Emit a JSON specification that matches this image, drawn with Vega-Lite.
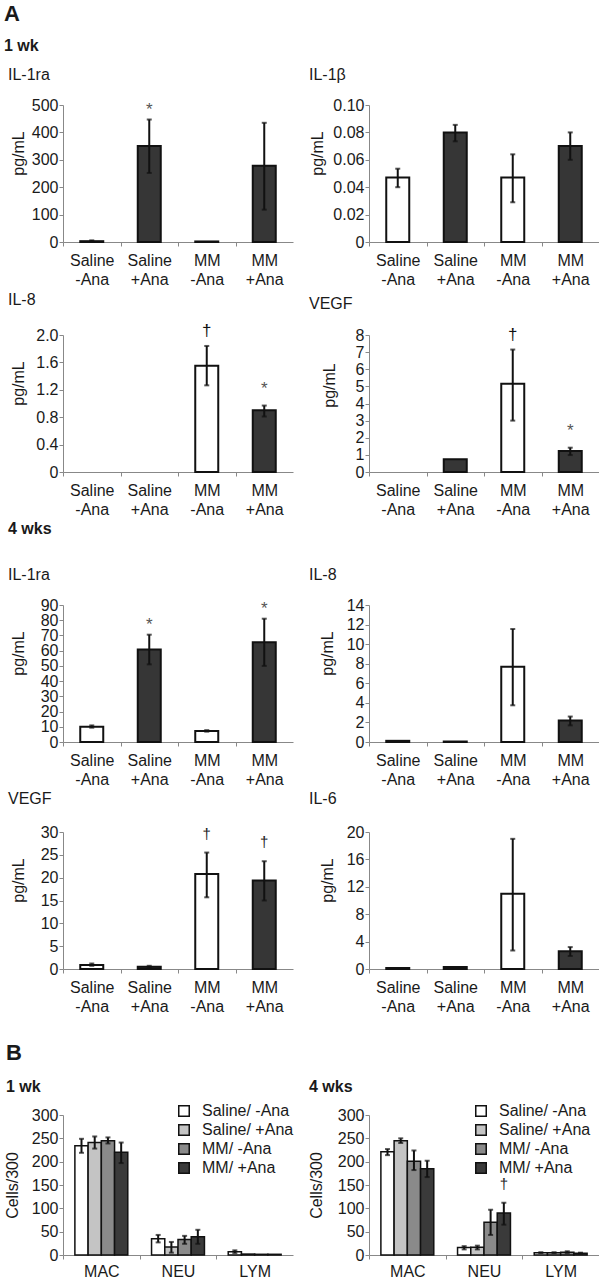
{
  "$schema": "https://vega.github.io/schema/vega-lite/v6.json",
  "padding": {"left": 3, "top": 3, "right": 0, "bottom": 0},
  "background": "white",
  "config": {
    "font": "Liberation Sans",
    "view": {"stroke": null},
    "axis": {"labelFont": "Liberation Sans", "labelFontSize": 16, "labelColor": "#1a1a1a", "titleFont": "Liberation Sans", "titleFontSize": 16, "titleFontWeight": "normal", "titleColor": "#1a1a1a", "domainColor": "#888", "tickColor": "#888", "tickSize": 4, "grid": false, "labelPadding": 1, "labelOverlap": false},
    "title": {"font": "Liberation Sans", "fontSize": 16, "fontWeight": "normal", "anchor": "start", "frame": "group", "color": "#1a1a1a", "offset": 14, "subtitleFont": "Liberation Sans", "subtitleFontSize": 16, "subtitleColor": "#1a1a1a"},
    "legend": {"labelFont": "Liberation Sans"}
  },
  "title": {"text": "A", "subtitle": "1 wk", "fontSize": 22, "fontWeight": "bold", "subtitleFontWeight": "bold", "subtitlePadding": 12, "offset": 12, "anchor": "start", "frame": "bounds"},
  "resolve": {"scale": {"fill": "independent"}, "legend": {"fill": "independent"}},
  "datasets": {
    "w1_il1ra": [
      {"c": "Saline -Ana", "ana": "-Ana", "v": 3, "lo": 1.5, "hi": 6, "sig": ""},
      {"c": "Saline +Ana", "ana": "+Ana", "v": 350, "lo": 252, "hi": 447, "sig": "*"},
      {"c": "MM -Ana", "ana": "-Ana", "v": 2, "lo": null, "hi": null, "sig": ""},
      {"c": "MM +Ana", "ana": "+Ana", "v": 278, "lo": 118, "hi": 435, "sig": ""}
    ],
    "w1_il1b": [
      {"c": "Saline -Ana", "ana": "-Ana", "v": 0.047, "lo": 0.040, "hi": 0.0535, "sig": ""},
      {"c": "Saline +Ana", "ana": "+Ana", "v": 0.080, "lo": 0.0735, "hi": 0.0855, "sig": ""},
      {"c": "MM -Ana", "ana": "-Ana", "v": 0.047, "lo": 0.029, "hi": 0.064, "sig": ""},
      {"c": "MM +Ana", "ana": "+Ana", "v": 0.070, "lo": 0.060, "hi": 0.080, "sig": ""}
    ],
    "w1_il8": [
      {"c": "Saline -Ana", "ana": "-Ana", "v": null, "lo": null, "hi": null, "sig": ""},
      {"c": "Saline +Ana", "ana": "+Ana", "v": null, "lo": null, "hi": null, "sig": ""},
      {"c": "MM -Ana", "ana": "-Ana", "v": 1.55, "lo": 1.265, "hi": 1.84, "sig": "†"},
      {"c": "MM +Ana", "ana": "+Ana", "v": 0.9, "lo": 0.81, "hi": 0.97, "sig": "*"}
    ],
    "w1_vegf": [
      {"c": "Saline -Ana", "ana": "-Ana", "v": null, "lo": null, "hi": null, "sig": ""},
      {"c": "Saline +Ana", "ana": "+Ana", "v": 0.75, "lo": null, "hi": null, "sig": ""},
      {"c": "MM -Ana", "ana": "-Ana", "v": 5.15, "lo": 3.0, "hi": 7.15, "sig": "†"},
      {"c": "MM +Ana", "ana": "+Ana", "v": 1.22, "lo": 0.99, "hi": 1.42, "sig": "*"}
    ],
    "w4_il1ra": [
      {"c": "Saline -Ana", "ana": "-Ana", "v": 10.0, "lo": 9.4, "hi": 10.9, "sig": ""},
      {"c": "Saline +Ana", "ana": "+Ana", "v": 60.8, "lo": 51, "hi": 70.5, "sig": "*"},
      {"c": "MM -Ana", "ana": "-Ana", "v": 7.2, "lo": 6.8, "hi": 7.8, "sig": ""},
      {"c": "MM +Ana", "ana": "+Ana", "v": 65.5, "lo": 50, "hi": 81, "sig": "*"}
    ],
    "w4_il8": [
      {"c": "Saline -Ana", "ana": "-Ana", "v": 0.12, "lo": null, "hi": null, "sig": ""},
      {"c": "Saline +Ana", "ana": "+Ana", "v": 0.05, "lo": null, "hi": null, "sig": ""},
      {"c": "MM -Ana", "ana": "-Ana", "v": 7.7, "lo": 3.75, "hi": 11.55, "sig": ""},
      {"c": "MM +Ana", "ana": "+Ana", "v": 2.2, "lo": 1.7, "hi": 2.6, "sig": ""}
    ],
    "w4_vegf": [
      {"c": "Saline -Ana", "ana": "-Ana", "v": 0.9, "lo": 0.7, "hi": 1.2, "sig": ""},
      {"c": "Saline +Ana", "ana": "+Ana", "v": 0.5, "lo": 0.4, "hi": 0.7, "sig": ""},
      {"c": "MM -Ana", "ana": "-Ana", "v": 20.8, "lo": 15.7, "hi": 25.5, "sig": "†"},
      {"c": "MM +Ana", "ana": "+Ana", "v": 19.4, "lo": 15.0, "hi": 23.6, "sig": "†"}
    ],
    "w4_il6": [
      {"c": "Saline -Ana", "ana": "-Ana", "v": 0.15, "lo": null, "hi": null, "sig": ""},
      {"c": "Saline +Ana", "ana": "+Ana", "v": 0.3, "lo": null, "hi": null, "sig": ""},
      {"c": "MM -Ana", "ana": "-Ana", "v": 11.0, "lo": 2.7, "hi": 19.0, "sig": ""},
      {"c": "MM +Ana", "ana": "+Ana", "v": 2.6, "lo": 1.9, "hi": 3.2, "sig": ""}
    ],
    "b1": [
      {"cell": "MAC", "grp": "Saline/ -Ana", "v": 234, "lo": 219, "hi": 249, "sig": ""},
      {"cell": "MAC", "grp": "Saline/ +Ana", "v": 241, "lo": 228, "hi": 254, "sig": ""},
      {"cell": "MAC", "grp": "MM/ -Ana", "v": 245, "lo": 239, "hi": 252, "sig": ""},
      {"cell": "MAC", "grp": "MM/ +Ana", "v": 220, "lo": 197, "hi": 241, "sig": ""},
      {"cell": "NEU", "grp": "Saline/ -Ana", "v": 35, "lo": 27, "hi": 43, "sig": ""},
      {"cell": "NEU", "grp": "Saline/ +Ana", "v": 17, "lo": 5, "hi": 28, "sig": ""},
      {"cell": "NEU", "grp": "MM/ -Ana", "v": 33, "lo": 24, "hi": 41, "sig": ""},
      {"cell": "NEU", "grp": "MM/ +Ana", "v": 39, "lo": 24, "hi": 54, "sig": ""},
      {"cell": "LYM", "grp": "Saline/ -Ana", "v": 7, "lo": 4, "hi": 10, "sig": ""},
      {"cell": "LYM", "grp": "Saline/ +Ana", "v": 2, "lo": null, "hi": null, "sig": ""},
      {"cell": "LYM", "grp": "MM/ -Ana", "v": 1.5, "lo": null, "hi": null, "sig": ""},
      {"cell": "LYM", "grp": "MM/ +Ana", "v": 1.5, "lo": null, "hi": null, "sig": ""}
    ],
    "b4": [
      {"cell": "MAC", "grp": "Saline/ -Ana", "v": 221, "lo": 214, "hi": 227, "sig": ""},
      {"cell": "MAC", "grp": "Saline/ +Ana", "v": 245, "lo": 240, "hi": 250, "sig": ""},
      {"cell": "MAC", "grp": "MM/ -Ana", "v": 201, "lo": 182, "hi": 224, "sig": ""},
      {"cell": "MAC", "grp": "MM/ +Ana", "v": 185, "lo": 167, "hi": 202, "sig": ""},
      {"cell": "NEU", "grp": "Saline/ -Ana", "v": 16, "lo": 12, "hi": 19, "sig": ""},
      {"cell": "NEU", "grp": "Saline/ +Ana", "v": 16.5, "lo": 12, "hi": 20, "sig": ""},
      {"cell": "NEU", "grp": "MM/ -Ana", "v": 70, "lo": 43, "hi": 97, "sig": ""},
      {"cell": "NEU", "grp": "MM/ +Ana", "v": 90, "lo": 65, "hi": 112, "sig": "†"},
      {"cell": "LYM", "grp": "Saline/ -Ana", "v": 5, "lo": 4, "hi": 6, "sig": ""},
      {"cell": "LYM", "grp": "Saline/ +Ana", "v": 5, "lo": 4, "hi": 6, "sig": ""},
      {"cell": "LYM", "grp": "MM/ -Ana", "v": 6, "lo": 4, "hi": 8, "sig": ""},
      {"cell": "LYM", "grp": "MM/ +Ana", "v": 4, "lo": 3, "hi": 5, "sig": ""}
    ]
  },
  "columns": 2,
  "align": "each",
  "bounds": "full",
  "spacing": {"row": 4, "column": 13},
  "concat": [
    {
      "title": {"text": "IL-1ra", "dx": -55},
      "width": 230, "height": 137,
      "data": {"name": "w1_il1ra"},
      "encoding": {"x": {"field": "c", "type": "nominal", "sort": ["Saline -Ana", "Saline +Ana", "MM -Ana", "MM +Ana"], "scale": {"paddingInner": 0.6, "paddingOuter": 0.3}, "axis": {"title": null, "labelAngle": 0, "labelExpr": "split(datum.label, ' ')", "labelLineHeight": 19, "labelPadding": 6, "tickOffset": -28.75, "labelOffset": 28.75}}},
      "layer": [
        {"mark": {"type": "bar", "stroke": "#111", "strokeWidth": 2},
         "encoding": {"y": {"field": "v", "type": "quantitative", "title": "pg/mL", "scale": {"domain": [0, 500]}, "axis": {"values": [0, 100, 200, 300, 400, 500], "labelOverlap": false, "titleX": -37, "titleY": 48}},
                      "fill": {"field": "ana", "type": "nominal", "scale": {"domain": ["-Ana", "+Ana"], "range": ["white", "#363636"]}, "legend": null}}},
        {"transform": [{"filter": "isValid(datum.hi)"}], "mark": {"type": "errorbar", "color": "#111", "ticks": {"size": 5, "thickness": 2}, "rule": {"strokeWidth": 2}},
         "encoding": {"y": {"field": "lo", "type": "quantitative", "title": "pg/mL", "axis": {"values": [0, 100, 200, 300, 400, 500], "labelOverlap": false, "titleX": -37, "titleY": 48}}, "y2": {"field": "hi"}}},
        {"transform": [{"filter": "datum.sig == '*'"}], "mark": {"type": "text", "baseline": "alphabetic", "dy": -5, "fontSize": 17, "color": "#555"},
         "encoding": {"y": {"field": "hi", "type": "quantitative", "title": "pg/mL", "axis": {"values": [0, 100, 200, 300, 400, 500], "labelOverlap": false, "titleX": -37, "titleY": 48}}, "text": {"field": "sig"}}}
      ]
    },
    {
      "title": {"text": "IL-1β", "dx": -60},
      "width": 230, "height": 137,
      "data": {"name": "w1_il1b"},
      "encoding": {"x": {"field": "c", "type": "nominal", "sort": ["Saline -Ana", "Saline +Ana", "MM -Ana", "MM +Ana"], "scale": {"paddingInner": 0.6, "paddingOuter": 0.3}, "axis": {"title": null, "labelAngle": 0, "labelExpr": "split(datum.label, ' ')", "labelLineHeight": 19, "labelPadding": 6, "tickOffset": -28.75, "labelOffset": 28.75}}},
      "layer": [
        {"mark": {"type": "bar", "stroke": "#111", "strokeWidth": 2},
         "encoding": {"y": {"field": "v", "type": "quantitative", "title": "pg/mL", "scale": {"domain": [0, 0.1]}, "axis": {"values": [0, 0.02, 0.04, 0.06, 0.08, 0.1], "labelOverlap": false, "labelExpr": "datum.value == 0 ? '0' : format(datum.value, '.2f')", "titleX": -44, "titleY": 48}},
                      "fill": {"field": "ana", "type": "nominal", "scale": {"domain": ["-Ana", "+Ana"], "range": ["white", "#363636"]}, "legend": null}}},
        {"transform": [{"filter": "isValid(datum.hi)"}], "mark": {"type": "errorbar", "color": "#111", "ticks": {"size": 5, "thickness": 2}, "rule": {"strokeWidth": 2}},
         "encoding": {"y": {"field": "lo", "type": "quantitative", "title": "pg/mL", "axis": {"values": [0, 0.02, 0.04, 0.06, 0.08, 0.1], "labelOverlap": false, "labelExpr": "datum.value == 0 ? '0' : format(datum.value, '.2f')", "titleX": -44, "titleY": 48}}, "y2": {"field": "hi"}}}
      ]
    },
    {
      "title": {"text": "IL-8", "dx": -55},
      "width": 230, "height": 137,
      "data": {"name": "w1_il8"},
      "encoding": {"x": {"field": "c", "type": "nominal", "sort": ["Saline -Ana", "Saline +Ana", "MM -Ana", "MM +Ana"], "scale": {"paddingInner": 0.6, "paddingOuter": 0.3}, "axis": {"title": null, "labelAngle": 0, "labelExpr": "split(datum.label, ' ')", "labelLineHeight": 19, "labelPadding": 6, "tickOffset": -28.75, "labelOffset": 28.75}}},
      "layer": [
        {"mark": {"type": "bar", "stroke": "#111", "strokeWidth": 2},
         "encoding": {"y": {"field": "v", "type": "quantitative", "title": "pg/mL", "scale": {"domain": [0, 2]}, "axis": {"values": [0, 0.4, 0.8, 1.2, 1.6, 2.0], "labelOverlap": false, "labelExpr": "datum.value == 0 ? '0' : format(datum.value, '.1f')", "titleX": -37, "titleY": 48}},
                      "fill": {"field": "ana", "type": "nominal", "scale": {"domain": ["-Ana", "+Ana"], "range": ["white", "#363636"]}, "legend": null}}},
        {"transform": [{"filter": "isValid(datum.hi)"}], "mark": {"type": "errorbar", "color": "#111", "ticks": {"size": 5, "thickness": 2}, "rule": {"strokeWidth": 2}},
         "encoding": {"y": {"field": "lo", "type": "quantitative", "title": "pg/mL", "axis": {"values": [0, 0.4, 0.8, 1.2, 1.6, 2.0], "labelOverlap": false, "labelExpr": "datum.value == 0 ? '0' : format(datum.value, '.1f')", "titleX": -37, "titleY": 48}}, "y2": {"field": "hi"}}},
        {"transform": [{"filter": "datum.sig == '*'"}], "mark": {"type": "text", "baseline": "alphabetic", "dy": -12, "fontSize": 17, "color": "#555"},
         "encoding": {"y": {"field": "hi", "type": "quantitative", "title": "pg/mL", "axis": {"values": [0, 0.4, 0.8, 1.2, 1.6, 2.0], "labelOverlap": false, "labelExpr": "datum.value == 0 ? '0' : format(datum.value, '.1f')", "titleX": -37, "titleY": 48}}, "text": {"field": "sig"}}},
        {"transform": [{"filter": "datum.sig == '†'"}], "mark": {"type": "text", "baseline": "alphabetic", "dy": -10, "fontSize": 17, "color": "#111"},
         "encoding": {"y": {"field": "hi", "type": "quantitative", "title": "pg/mL", "axis": {"values": [0, 0.4, 0.8, 1.2, 1.6, 2.0], "labelOverlap": false, "labelExpr": "datum.value == 0 ? '0' : format(datum.value, '.1f')", "titleX": -37, "titleY": 48}}, "text": {"field": "sig"}}}
      ]
    },
    {
      "title": {"text": "VEGF", "dx": -60},
      "width": 230, "height": 137,
      "data": {"name": "w1_vegf"},
      "encoding": {"x": {"field": "c", "type": "nominal", "sort": ["Saline -Ana", "Saline +Ana", "MM -Ana", "MM +Ana"], "scale": {"paddingInner": 0.6, "paddingOuter": 0.3}, "axis": {"title": null, "labelAngle": 0, "labelExpr": "split(datum.label, ' ')", "labelLineHeight": 19, "labelPadding": 6, "tickOffset": -28.75, "labelOffset": 28.75}}},
      "layer": [
        {"mark": {"type": "bar", "stroke": "#111", "strokeWidth": 2},
         "encoding": {"y": {"field": "v", "type": "quantitative", "title": "pg/mL", "scale": {"domain": [0, 8]}, "axis": {"values": [0, 1, 2, 3, 4, 5, 6, 7, 8], "labelOverlap": false, "titleX": -32, "titleY": 50}},
                      "fill": {"field": "ana", "type": "nominal", "scale": {"domain": ["-Ana", "+Ana"], "range": ["white", "#363636"]}, "legend": null}}},
        {"transform": [{"filter": "isValid(datum.hi)"}], "mark": {"type": "errorbar", "color": "#111", "ticks": {"size": 5, "thickness": 2}, "rule": {"strokeWidth": 2}},
         "encoding": {"y": {"field": "lo", "type": "quantitative", "title": "pg/mL", "axis": {"values": [0, 1, 2, 3, 4, 5, 6, 7, 8], "labelOverlap": false, "titleX": -32, "titleY": 50}}, "y2": {"field": "hi"}}},
        {"transform": [{"filter": "datum.sig == '*'"}], "mark": {"type": "text", "baseline": "alphabetic", "dy": -12, "fontSize": 17, "color": "#555"},
         "encoding": {"y": {"field": "hi", "type": "quantitative", "title": "pg/mL", "axis": {"values": [0, 1, 2, 3, 4, 5, 6, 7, 8], "labelOverlap": false, "titleX": -32, "titleY": 50}}, "text": {"field": "sig"}}},
        {"transform": [{"filter": "datum.sig == '†'"}], "mark": {"type": "text", "baseline": "alphabetic", "dy": -10, "fontSize": 17, "color": "#111"},
         "encoding": {"y": {"field": "hi", "type": "quantitative", "title": "pg/mL", "axis": {"values": [0, 1, 2, 3, 4, 5, 6, 7, 8], "labelOverlap": false, "titleX": -32, "titleY": 50}}, "text": {"field": "sig"}}}
      ]
    },
    {
      "title": {"text": "4 wks", "fontWeight": "bold", "subtitle": "IL-1ra", "subtitleFontWeight": "normal", "subtitlePadding": 30, "dx": -55},
      "width": 230, "height": 137,
      "data": {"name": "w4_il1ra"},
      "encoding": {"x": {"field": "c", "type": "nominal", "sort": ["Saline -Ana", "Saline +Ana", "MM -Ana", "MM +Ana"], "scale": {"paddingInner": 0.6, "paddingOuter": 0.3}, "axis": {"title": null, "labelAngle": 0, "labelExpr": "split(datum.label, ' ')", "labelLineHeight": 19, "labelPadding": 6, "tickOffset": -28.75, "labelOffset": 28.75}}},
      "layer": [
        {"mark": {"type": "bar", "stroke": "#111", "strokeWidth": 2},
         "encoding": {"y": {"field": "v", "type": "quantitative", "title": "pg/mL", "scale": {"domain": [0, 90]}, "axis": {"values": [0, 10, 20, 30, 40, 50, 60, 70, 80, 90], "labelOverlap": false, "titleX": -37, "titleY": 48}},
                      "fill": {"field": "ana", "type": "nominal", "scale": {"domain": ["-Ana", "+Ana"], "range": ["white", "#363636"]}, "legend": null}}},
        {"transform": [{"filter": "isValid(datum.hi)"}], "mark": {"type": "errorbar", "color": "#111", "ticks": {"size": 5, "thickness": 2}, "rule": {"strokeWidth": 2}},
         "encoding": {"y": {"field": "lo", "type": "quantitative", "title": "pg/mL", "axis": {"values": [0, 10, 20, 30, 40, 50, 60, 70, 80, 90], "labelOverlap": false, "titleX": -37, "titleY": 48}}, "y2": {"field": "hi"}}},
        {"transform": [{"filter": "datum.sig == '*'"}], "mark": {"type": "text", "baseline": "alphabetic", "dy": -5, "fontSize": 17, "color": "#555"},
         "encoding": {"y": {"field": "hi", "type": "quantitative", "title": "pg/mL", "axis": {"values": [0, 10, 20, 30, 40, 50, 60, 70, 80, 90], "labelOverlap": false, "titleX": -37, "titleY": 48}}, "text": {"field": "sig"}}}
      ]
    },
    {
      "title": {"text": " ", "fontWeight": "bold", "subtitle": "IL-8", "subtitleFontWeight": "normal", "subtitlePadding": 30, "dx": -60},
      "width": 230, "height": 137,
      "data": {"name": "w4_il8"},
      "encoding": {"x": {"field": "c", "type": "nominal", "sort": ["Saline -Ana", "Saline +Ana", "MM -Ana", "MM +Ana"], "scale": {"paddingInner": 0.6, "paddingOuter": 0.3}, "axis": {"title": null, "labelAngle": 0, "labelExpr": "split(datum.label, ' ')", "labelLineHeight": 19, "labelPadding": 6, "tickOffset": -28.75, "labelOffset": 28.75}}},
      "layer": [
        {"mark": {"type": "bar", "stroke": "#111", "strokeWidth": 2},
         "encoding": {"y": {"field": "v", "type": "quantitative", "title": "pg/mL", "scale": {"domain": [0, 14]}, "axis": {"values": [0, 2, 4, 6, 8, 10, 12, 14], "labelOverlap": false, "titleX": -34, "titleY": 48}},
                      "fill": {"field": "ana", "type": "nominal", "scale": {"domain": ["-Ana", "+Ana"], "range": ["white", "#363636"]}, "legend": null}}},
        {"transform": [{"filter": "isValid(datum.hi)"}], "mark": {"type": "errorbar", "color": "#111", "ticks": {"size": 5, "thickness": 2}, "rule": {"strokeWidth": 2}},
         "encoding": {"y": {"field": "lo", "type": "quantitative", "title": "pg/mL", "axis": {"values": [0, 2, 4, 6, 8, 10, 12, 14], "labelOverlap": false, "titleX": -34, "titleY": 48}}, "y2": {"field": "hi"}}}
      ]
    },
    {
      "title": {"text": "VEGF", "dx": -55, "offset": 17},
      "width": 230, "height": 137,
      "data": {"name": "w4_vegf"},
      "encoding": {"x": {"field": "c", "type": "nominal", "sort": ["Saline -Ana", "Saline +Ana", "MM -Ana", "MM +Ana"], "scale": {"paddingInner": 0.6, "paddingOuter": 0.3}, "axis": {"title": null, "labelAngle": 0, "labelExpr": "split(datum.label, ' ')", "labelLineHeight": 19, "labelPadding": 6, "tickOffset": -28.75, "labelOffset": 28.75}}},
      "layer": [
        {"mark": {"type": "bar", "stroke": "#111", "strokeWidth": 2},
         "encoding": {"y": {"field": "v", "type": "quantitative", "title": "pg/mL", "scale": {"domain": [0, 30]}, "axis": {"values": [0, 5, 10, 15, 20, 25, 30], "labelOverlap": false, "titleX": -37, "titleY": 48}},
                      "fill": {"field": "ana", "type": "nominal", "scale": {"domain": ["-Ana", "+Ana"], "range": ["white", "#363636"]}, "legend": null}}},
        {"transform": [{"filter": "isValid(datum.hi)"}], "mark": {"type": "errorbar", "color": "#111", "ticks": {"size": 5, "thickness": 2}, "rule": {"strokeWidth": 2}},
         "encoding": {"y": {"field": "lo", "type": "quantitative", "title": "pg/mL", "axis": {"values": [0, 5, 10, 15, 20, 25, 30], "labelOverlap": false, "titleX": -37, "titleY": 48}}, "y2": {"field": "hi"}}},
        {"transform": [{"filter": "datum.sig == '†'"}], "mark": {"type": "text", "baseline": "alphabetic", "dy": -14, "fontSize": 15, "color": "#222"},
         "encoding": {"y": {"field": "hi", "type": "quantitative", "title": "pg/mL", "axis": {"values": [0, 5, 10, 15, 20, 25, 30], "labelOverlap": false, "titleX": -37, "titleY": 48}}, "text": {"field": "sig"}}}
      ]
    },
    {
      "title": {"text": "IL-6", "dx": -60, "offset": 17},
      "width": 230, "height": 137,
      "data": {"name": "w4_il6"},
      "encoding": {"x": {"field": "c", "type": "nominal", "sort": ["Saline -Ana", "Saline +Ana", "MM -Ana", "MM +Ana"], "scale": {"paddingInner": 0.6, "paddingOuter": 0.3}, "axis": {"title": null, "labelAngle": 0, "labelExpr": "split(datum.label, ' ')", "labelLineHeight": 19, "labelPadding": 6, "tickOffset": -28.75, "labelOffset": 28.75}}},
      "layer": [
        {"mark": {"type": "bar", "stroke": "#111", "strokeWidth": 2},
         "encoding": {"y": {"field": "v", "type": "quantitative", "title": "pg/mL", "scale": {"domain": [0, 20]}, "axis": {"values": [0, 4, 8, 12, 16, 20], "labelOverlap": false, "titleX": -34, "titleY": 48}},
                      "fill": {"field": "ana", "type": "nominal", "scale": {"domain": ["-Ana", "+Ana"], "range": ["white", "#363636"]}, "legend": null}}},
        {"transform": [{"filter": "isValid(datum.hi)"}], "mark": {"type": "errorbar", "color": "#111", "ticks": {"size": 5, "thickness": 2}, "rule": {"strokeWidth": 2}},
         "encoding": {"y": {"field": "lo", "type": "quantitative", "title": "pg/mL", "axis": {"values": [0, 4, 8, 12, 16, 20], "labelOverlap": false, "titleX": -34, "titleY": 48}}, "y2": {"field": "hi"}}}
      ]
    },
    {
      "title": {"text": ["", "B"], "fontSize": 22, "fontWeight": "bold", "subtitle": "1 wk", "subtitleFontWeight": "bold", "subtitlePadding": 14, "offset": 7, "dx": -57},
      "width": 230, "height": 140,
      "data": {"name": "b1"},
      "encoding": {
        "x": {"field": "cell", "type": "nominal", "sort": ["MAC", "NEU", "LYM"], "scale": {"paddingInner": 0.31, "paddingOuter": 0.155}, "axis": {"title": null, "labelAngle": 0, "labelPadding": 4, "tickOffset": -38.33, "labelOffset": 38.33}},
        "xOffset": {"field": "grp", "type": "nominal", "sort": ["Saline/ -Ana", "Saline/ +Ana", "MM/ -Ana", "MM/ +Ana"], "scale": {"paddingInner": 0, "paddingOuter": 0}}
      },
      "layer": [
        {"mark": {"type": "bar", "stroke": "#111", "strokeWidth": 1.5},
         "encoding": {"y": {"field": "v", "type": "quantitative", "title": "Cells/300", "scale": {"domain": [0, 300]}, "axis": {"values": [0, 50, 100, 150, 200, 250, 300], "labelOverlap": false, "titleX": -43, "titleY": 70}},
                      "fill": {"field": "grp", "type": "nominal", "sort": ["Saline/ -Ana", "Saline/ +Ana", "MM/ -Ana", "MM/ +Ana"], "scale": {"domain": ["Saline/ -Ana", "Saline/ +Ana", "MM/ -Ana", "MM/ +Ana"], "range": ["white", "#c4c4c4", "#8a8a8a", "#3a3a3a"]},
                               "legend": {"title": null, "orient": "none", "legendX": 113, "legendY": -12, "symbolType": "square", "symbolSize": 110, "symbolStrokeColor": "#111", "symbolStrokeWidth": 1.5, "labelFontSize": 16, "labelColor": "#1a1a1a", "labelOffset": 10, "rowPadding": 1}}}},
        {"transform": [{"filter": "isValid(datum.hi)"}], "mark": {"type": "errorbar", "color": "#111", "ticks": {"size": 5, "thickness": 2}, "rule": {"strokeWidth": 2}},
         "encoding": {"y": {"field": "lo", "type": "quantitative", "title": "Cells/300", "axis": {"values": [0, 50, 100, 150, 200, 250, 300], "labelOverlap": false, "titleX": -43, "titleY": 70}}, "y2": {"field": "hi"}}}
      ]
    },
    {
      "title": {"text": ["", " "], "fontSize": 22, "fontWeight": "bold", "subtitle": "4 wks", "subtitleFontWeight": "bold", "subtitlePadding": 14, "offset": 7, "dx": -60},
      "width": 230, "height": 140,
      "data": {"name": "b4"},
      "encoding": {
        "x": {"field": "cell", "type": "nominal", "sort": ["MAC", "NEU", "LYM"], "scale": {"paddingInner": 0.31, "paddingOuter": 0.155}, "axis": {"title": null, "labelAngle": 0, "labelPadding": 4, "tickOffset": -38.33, "labelOffset": 38.33}},
        "xOffset": {"field": "grp", "type": "nominal", "sort": ["Saline/ -Ana", "Saline/ +Ana", "MM/ -Ana", "MM/ +Ana"], "scale": {"paddingInner": 0, "paddingOuter": 0}}
      },
      "layer": [
        {"mark": {"type": "bar", "stroke": "#111", "strokeWidth": 1.5},
         "encoding": {"y": {"field": "v", "type": "quantitative", "title": "Cells/300", "scale": {"domain": [0, 300]}, "axis": {"values": [0, 50, 100, 150, 200, 250, 300], "labelOverlap": false, "titleX": -45, "titleY": 70}},
                      "fill": {"field": "grp", "type": "nominal", "sort": ["Saline/ -Ana", "Saline/ +Ana", "MM/ -Ana", "MM/ +Ana"], "scale": {"domain": ["Saline/ -Ana", "Saline/ +Ana", "MM/ -Ana", "MM/ +Ana"], "range": ["white", "#c4c4c4", "#8a8a8a", "#3a3a3a"]},
                               "legend": {"title": null, "orient": "none", "legendX": 104, "legendY": -12, "symbolType": "square", "symbolSize": 110, "symbolStrokeColor": "#111", "symbolStrokeWidth": 1.5, "labelFontSize": 16, "labelColor": "#1a1a1a", "labelOffset": 10, "rowPadding": 1}}}},
        {"transform": [{"filter": "isValid(datum.hi)"}], "mark": {"type": "errorbar", "color": "#111", "ticks": {"size": 5, "thickness": 2}, "rule": {"strokeWidth": 2}},
         "encoding": {"y": {"field": "lo", "type": "quantitative", "title": "Cells/300", "axis": {"values": [0, 50, 100, 150, 200, 250, 300], "labelOverlap": false, "titleX": -45, "titleY": 70}}, "y2": {"field": "hi"}}},
        {"transform": [{"filter": "datum.sig == '†'"}], "mark": {"type": "text", "baseline": "alphabetic", "dy": -14, "fontSize": 15, "color": "#222"},
         "encoding": {"y": {"field": "hi", "type": "quantitative", "title": "Cells/300", "axis": {"values": [0, 50, 100, 150, 200, 250, 300], "labelOverlap": false, "titleX": -45, "titleY": 70}}, "text": {"field": "sig"}}}
      ]
    }
  ]
}
